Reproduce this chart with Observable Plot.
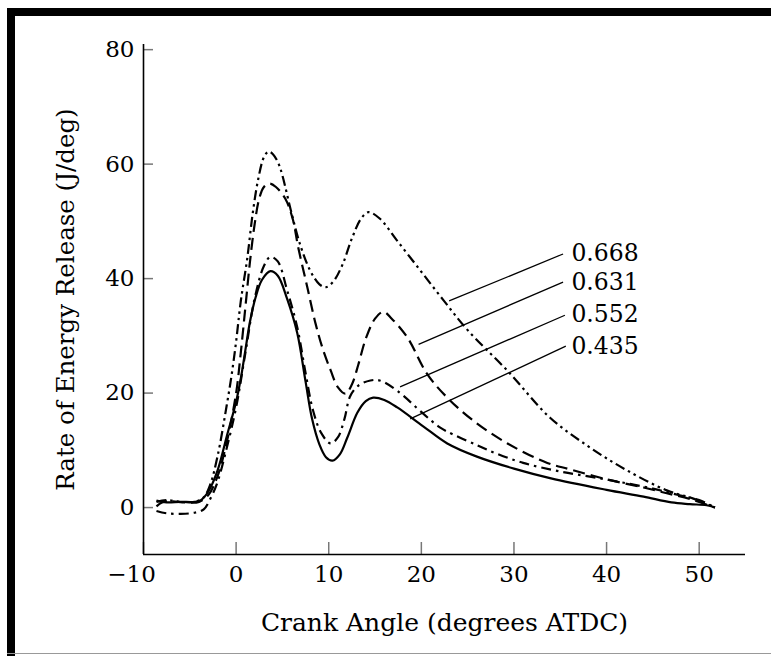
<!DOCTYPE html>
<html><head><meta charset="utf-8">
<script src="https://cdn.jsdelivr.net/npm/d3@7"></script>
<script src="https://cdn.jsdelivr.net/npm/@observablehq/plot@0.6"></script>
<style>
body{margin:0;background:#fff;}
#wrap{position:relative;width:771px;height:656px;overflow:hidden;background:#fff;}
#wrap svg{position:absolute;left:0;top:0;}
.bar{position:absolute;background:#000;}
</style></head><body>
<div id="wrap"></div>
<script>
// ---- data ----
const xTicks = [-10, 0, 10, 20, 30, 40, 50];
const yTicks = [0, 20, 40, 60, 80];
const xDomain = [-10, 55];
const yDomain = [-8.2, 80.9];
const xTitle = "Crank Angle (degrees ATDC)";
const yTitle = "Rate of Energy Release (J/deg)";

const seriesNames = ["0.435", "0.552", "0.631", "0.668"];

const s435 = [[-8.6,1.2],[-7.5,0.9],[-6,1.0],[-4.5,1.0],[-3.8,1.3],[-3,2.8],[-2,6.5],[-1,12.5],[0,18.5],[0.5,22.5],[1,27.5],[1.5,32.5],[2.1,36.7],[2.8,39.8],[3.7,41.3],[4.5,40.5],[5.5,36.5],[6.6,30.5],[7.5,22],[8.2,15.5],[9,11],[9.7,8.8],[10.4,8.2],[11.2,9.3],[12,12.2],[13.1,16.6],[14,18.6],[14.8,19.2],[16,18.8],[17.4,17.5],[20.2,14.2],[22.8,11.2],[26,8.9],[30,6.8],[34,5.1],[40,3.1],[44,1.9],[47,0.9],[49,0.6],[50.8,0.4],[51.7,0]];

const s552 = [[-8.6,-0.6],[-7.5,-1.0],[-6,-1.1],[-4.5,-0.9],[-3.5,-0.3],[-2.8,1.5],[-2,4.5],[-1,10.5],[0,17.5],[1,27],[2,36.5],[3,42.2],[3.7,43.8],[4.5,43],[5.5,38],[6.6,31.5],[7.5,23.5],[8.3,17],[9.2,13],[10.2,11.2],[11,12.3],[11.7,15.5],[12.3,19.4],[13.2,21.3],[14.5,22.2],[15.5,22.2],[17.4,20.4],[20.2,16.4],[22,14],[23.4,12.8],[26,10.9],[28,9.5],[31,7.8],[35,6.3],[40,4.9],[45,3.3],[48,2.1],[50,1.3],[51.7,0]];

const s631 = [[-8.6,0.2],[-8,0.9],[-7,1.1],[-5.5,0.9],[-4,1.0],[-3,2.2],[-2,5.5],[-1,11.5],[0,20],[0.5,27],[1,35],[1.5,43],[2,49.5],[2.5,54],[3,56],[3.6,56.6],[4.3,56],[5.3,54],[6.1,50.5],[6.7,45.5],[7.7,38.4],[8.6,32],[9.4,27.5],[10.2,24],[11,21],[11.8,19.9],[12.5,21.5],[13.2,25],[14,29.5],[15,33],[15.9,34.2],[16.8,33],[18.5,29.7],[20.6,23.4],[22.8,19.2],[25.6,15.2],[29.3,11.2],[33.6,7.8],[36,6.7],[40.1,4.9],[44,3.5],[46.5,2.5],[49,1.5],[51.7,0]];

const s668 = [[-8.6,1.0],[-7.5,1.3],[-6,1.0],[-4.5,1.0],[-3.5,1.8],[-2.8,4],[-2,9],[-1,18],[-0.5,23],[0,29],[0.5,36],[1.2,43.5],[1.8,51.5],[2.4,57.5],[3,61.2],[3.5,62.2],[4,61.7],[4.6,60],[5,58],[5.9,52],[6.9,46],[8,41.4],[9,39],[9.7,38.5],[10.5,39.5],[11.5,42.5],[12.5,47],[13.5,50.5],[14.3,51.6],[15.5,50.5],[17.4,46.6],[19.9,41.4],[22.4,36.2],[25,31],[29.3,23.9],[33.9,15.7],[38.2,10.5],[42.2,6.5],[46.5,3],[49.3,1.6],[51.7,0]];

// labels (top to bottom) and leader lines
const labelNames = ["0.668", "0.631", "0.552", "0.435"];
const labelX = [36.2, 36.2, 36.2, 36.2];
const labelY = [44.4, 39.4, 33.7, 28.1];
const leaderFrom = [[35.3,44.3],[35.3,39.4],[35.5,33.6],[35.6,28.2]];
const leaderTo = [[23.0,36.1],[19.7,28.5],[17.7,21.1],[18.8,15.5]];

// ---- build ----
const seriesPts = {"0.435": s435, "0.552": s552, "0.631": s631, "0.668": s668};
const dashes = {"0.435": null, "0.552": "10,5,2.5,5", "0.631": "12,6", "0.668": "10,4,2.5,4,2.5,4"};

const lineMarks = seriesNames.map(name => {
  const rows = seriesPts[name].map(([x, y]) => ({series: name, x, y}));
  return Plot.line(rows, {
    x: "x", y: "y", curve: "catmull-rom",
    stroke: "#000", strokeWidth: 2.2,
    strokeDasharray: dashes[name] ?? undefined,
    strokeLinecap: "butt"
  });
});

const labelRows = labelNames.map((t, i) => ({t, x: labelX[i], y: labelY[i]}));
const leaderRows = labelNames.map((t, i) => ({
  x1: leaderFrom[i][0], y1: leaderFrom[i][1], x2: leaderTo[i][0], y2: leaderTo[i][1]
}));

const fontFam = "'DejaVu Serif', serif";
const chart = Plot.plot({
  width: 771, height: 656,
  marginLeft: 143, marginRight: 26, marginTop: 44, marginBottom: 102,
  x: {domain: xDomain},
  y: {domain: yDomain},
  style: {fontFamily: fontFam, fontSize: "23px", color: "#000", background: "transparent", overflow: "visible"},
  marks: [
    Plot.axisX({ticks: xTicks.filter(d => d !== xDomain[0]), tickSize: 0, tickPadding: 11, label: null, fontSize: 23}),
    Plot.axisX({ticks: xTicks.filter(d => d === xDomain[0]), tickSize: 0, tickPadding: 11, label: null, fontSize: 23, dx: -12}),
    Plot.axisX({ticks: xTicks, tickSize: 12, dy: -12, text: null, label: null, stroke: "#777", strokeWidth: 1.5}),
    Plot.axisY({ticks: yTicks, tickSize: 0, tickPadding: 9, label: null, fontSize: 23}),
    Plot.axisY({ticks: yTicks, tickSize: 10, dx: 10, text: null, label: null, stroke: "#777", strokeWidth: 1.5}),
    Plot.ruleX([xDomain[0]], {stroke: "#000", strokeWidth: 1.6}),
    Plot.ruleY([yDomain[0]], {stroke: "#000", strokeWidth: 1.6}),
    ...lineMarks,
    Plot.link(leaderRows, {x1: "x1", y1: "y1", x2: "x2", y2: "y2", stroke: "#000", strokeWidth: 1.3}),
    Plot.text(labelRows, {x: "x", y: "y", text: "t", textAnchor: "start", lineAnchor: "middle", fontSize: 23.5, fill: "#000"}),
    Plot.text([yTitle], {text: d => d, frameAnchor: "left", textAnchor: "middle", rotate: -90, dx: -77, fontSize: 24.5, lineAnchor: "middle", fill: "#000"}),
    Plot.text([xTitle], {text: d => d, frameAnchor: "bottom", textAnchor: "middle", dy: 68, fontSize: 25, lineAnchor: "middle", fill: "#000"})
  ]
});

const wrap = document.getElementById("wrap");
wrap.appendChild(chart);
// frame
const mk = (l, t, w, h, c) => { const d = document.createElement("div"); d.className = "bar"; Object.assign(d.style, {left: l + "px", top: t + "px", width: w + "px", height: h + "px", background: c}); wrap.appendChild(d); };
mk(7, 8, 764, 8, "#000");
mk(7, 8, 8, 648, "#000");
mk(7, 653, 764, 1, "#999");
</script>
</body></html>
